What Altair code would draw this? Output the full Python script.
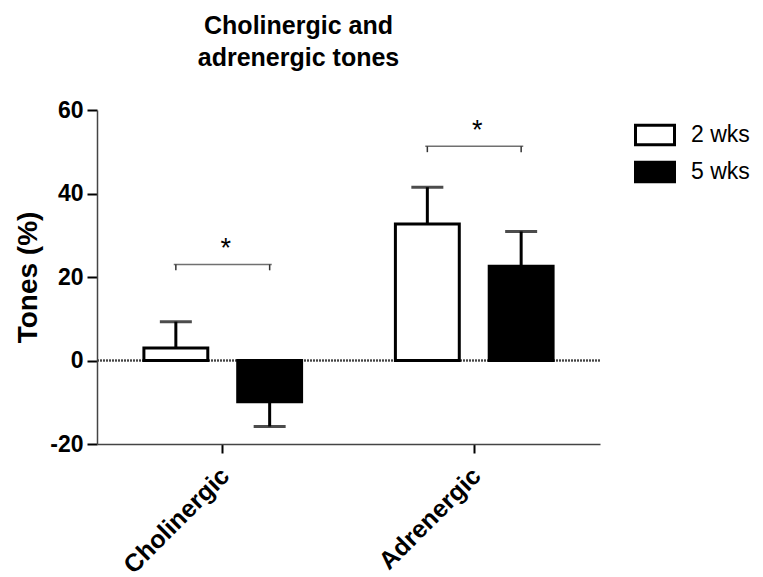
import altair as alt
import pandas as pd

categories = ["Cholinergic", "Adrenergic"]
groups = ["2 wks", "5 wks"]
means_2wks = [3.0, 32.7]
means_5wks = [-9.9, 22.6]
sem_2wks = [6.3, 8.8]
sem_5wks = [5.9, 8.3]
bracket_y = [23.0, 51.3]
bracket_drop = 1.4
stars = ["*", "*"]

FONT = "Liberation Sans"

rows = []
for i, c in enumerate(categories):
    for g, m, s in ((groups[0], means_2wks[i], sem_2wks[i]), (groups[1], means_5wks[i], sem_5wks[i])):
        end = m + s if m >= 0 else m - s
        rows.append({"category": c, "group": g, "mean": m, "err_end": end,
                     "by": bracket_y[i], "by2": bracket_y[i] - bracket_drop})
df = pd.DataFrame(rows)
bdf = pd.DataFrame({"category": categories, "by": bracket_y, "star": stars})

x_enc = alt.X("category:N", sort=categories,
              scale=alt.Scale(paddingInner=0, paddingOuter=0),
              axis=alt.Axis(title=None, labelAngle=-45, labelFont=FONT, labelFontSize=25,
                            labelFontWeight="bold", labelColor="black", tickSize=9,
                            tickColor="black", tickWidth=2, domainColor="#444",
                            domainWidth=1.5, labelPadding=10, labelOffset=-6))
xo_enc = alt.XOffset("group:N", sort=groups,
                     scale=alt.Scale(paddingInner=0.319, paddingOuter=0.5))
y_scale = alt.Scale(domain=[-20, 60], nice=False, zero=False)

base = alt.Chart(df)

zero = alt.Chart(df).mark_rule(color="#444", strokeWidth=1.5, strokeDash=[2, 1]).encode(
    y=alt.datum(0))

bars = base.mark_bar(stroke="black", strokeWidth=3).encode(
    x=x_enc,
    xOffset=xo_enc,
    y=alt.Y("mean:Q", scale=y_scale,
            axis=alt.Axis(values=[-20, 0, 20, 40, 60], grid=False, title="Tones (%)",
                          labelExpr="datum.value",
                          titleFont=FONT, titleFontSize=28, titleFontWeight="bold",
                          titleColor="black", titlePadding=7,
                          labelFont=FONT, labelFontSize=23, labelFontWeight="bold",
                          labelColor="black", tickSize=10, tickColor="black", tickWidth=2,
                          domainColor="#444", domainWidth=1.5, labelPadding=4)),
    fill=alt.Fill("group:N", sort=groups,
                  scale=alt.Scale(domain=groups, range=["white", "black"]),
                  legend=alt.Legend(title=None, orient="none", legendX=537, legendY=4,
                                    symbolType="M-1,-0.5H1V0.5H-1Z", symbolSize=1521,
                                    symbolStrokeColor="black", symbolStrokeWidth=3,
                                    labelFont=FONT, labelFontSize=23, labelColor="black",
                                    labelOffset=15, rowPadding=0)),
)

stems = base.mark_rule(color="black", strokeWidth=3).encode(
    x=alt.X("category:N", sort=categories), xOffset=alt.XOffset("group:N", sort=groups),
    y=alt.Y("mean:Q"), y2="err_end:Q")

caps = base.mark_tick(color="black", thickness=3, size=32, orient="horizontal").encode(
    x=alt.X("category:N", sort=categories), xOffset=alt.XOffset("group:N", sort=groups),
    y=alt.Y("err_end:Q"))

bracket_h = alt.Chart(bdf).mark_tick(color="#333", thickness=1.5, size=98,
                                     orient="horizontal").encode(
    x=alt.X("category:N", sort=categories), y=alt.Y("by:Q"))

bracket_ends = base.mark_rule(color="#333", strokeWidth=1.5).encode(
    x=alt.X("category:N", sort=categories), xOffset=alt.XOffset("group:N", sort=groups),
    y=alt.Y("by:Q"), y2="by2:Q")

star_text = alt.Chart(bdf).mark_text(font=FONT, fontSize=27, color="black", dy=-7, dx=3,
                                     baseline="alphabetic").encode(
    x=alt.X("category:N", sort=categories), y=alt.Y("by:Q"), text="star:N")

chart = alt.layer(zero, bars, stems, caps, bracket_h, bracket_ends, star_text).properties(
    width=503, height=334,
    title=alt.TitleParams(["Cholinergic and", "adrenergic tones"], font=FONT, fontSize=25,
                          fontWeight="bold", color="black", anchor="middle", dx=-50,
                          offset=28, lineHeight=32),
    autosize=alt.AutoSizeParams(type="none"),
    padding={"left": 97, "top": 110, "right": 163, "bottom": 133},
    background="white",
).configure_view(stroke=None)

chart.save("out.html", embed_options={"renderer": "svg", "actions": False})
